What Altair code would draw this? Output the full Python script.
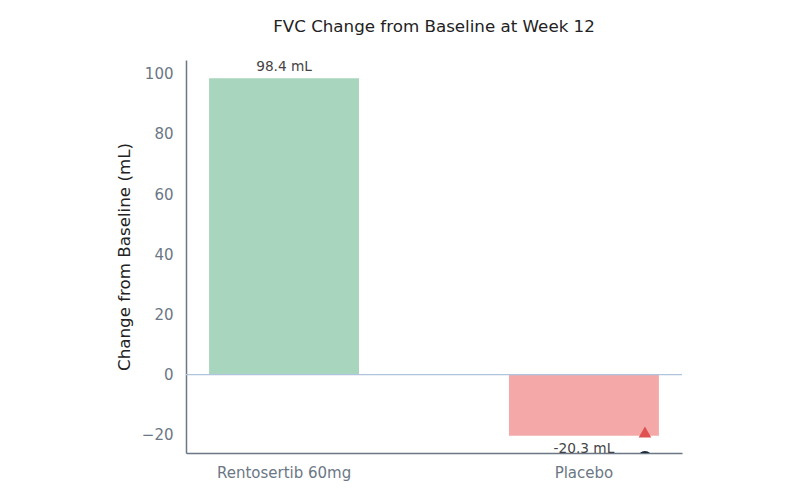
import altair as alt
import pandas as pd

groups = ["Rentosertib 60mg", "Placebo"]
changes = [98.4, -20.3]
labels = ["98.4 mL", "-20.3 mL"]
bar_colors = ["#a8d5be", "#f4a9a8"]

marker_group = ["Placebo", "Placebo"]
marker_values = [-19.0, -27.8]
marker_shapes = ["triangle-up", "circle"]
marker_colors = ["#e05252", "#1c2b3a"]
marker_sizes = [160, 220]

bars_df = pd.DataFrame({"group": groups, "change": changes, "label": labels, "color": bar_colors})
markers_df = pd.DataFrame(
    {
        "group": marker_group,
        "value": marker_values,
        "shape": marker_shapes,
        "color": marker_colors,
        "size": marker_sizes,
    }
)

font = "DejaVu Sans"

x = alt.X(
    "group:N",
    sort=groups,
    title=None,
    scale=alt.Scale(paddingInner=0.5, paddingOuter=0.077),
    axis=alt.Axis(
        labelAngle=0,
        labelFontSize=15,
        labelColor="#6b7785",
        labelPadding=12,
        ticks=False,
        grid=False,
        domainColor="#6b7785",
        domainWidth=1.5,
    ),
)
y_scale = alt.Scale(domain=[-26, 104.5], nice=False, zero=False)

base = alt.Chart(bars_df)

bars = base.mark_bar(clip=True).encode(
    x=x,
    y=alt.Y(
        "change:Q",
        scale=y_scale,
        title="Change from Baseline (mL)",
        axis=alt.Axis(
            grid=False,
            ticks=False,
            values=[-20, 0, 20, 40, 60, 80, 100],
            labelExpr="replace(datum.label, '-', '\u2212')",
            labelFontSize=15,
            labelColor="#6b7785",
            labelPadding=13,
            domainColor="#6b7785",
            domainWidth=1.5,
            titleFontSize=16.7,
            titleFontWeight="normal",
            titleColor="#222222",
            titlePadding=8,
        ),
    ),
    y2=alt.datum(0),
    color=alt.Color("color:N", scale=None),
)

zero = alt.Chart(pd.DataFrame({"z": [0]})).mark_rule(color="#b0c4de", strokeWidth=1.2).encode(
    y=alt.Y("z:Q", scale=y_scale)
)

top_labels = base.transform_filter("datum.change >= 0").mark_text(
    dy=-4, baseline="bottom", fontSize=13.7, color="#444444", font=font
).encode(x=x, y=alt.Y("change:Q", scale=y_scale), text="label:N")

bottom_labels = base.transform_filter("datum.change < 0").mark_text(
    dy=6, baseline="top", fontSize=13.7, color="#444444", font=font
).encode(x=x, y=alt.Y("change:Q", scale=y_scale), text="label:N")

markers = alt.Chart(markers_df).mark_point(
    filled=True, xOffset=61, clip=True, opacity=1
).encode(
    x=x,
    y=alt.Y("value:Q", scale=y_scale),
    shape=alt.Shape("shape:N", scale=None),
    color=alt.Color("color:N", scale=None),
    size=alt.Size("size:Q", scale=None),
)

chart = (
    alt.layer(bars, zero, top_labels, bottom_labels, markers)
    .properties(
        width=496,
        height=393,
        view=alt.ViewBackground(stroke="transparent", strokeWidth=0),
        title=alt.TitleParams(
            "FVC Change from Baseline at Week 12",
            fontSize=16.7,
            fontWeight="normal",
            color="#222222",
            font=font,
            offset=24,
        ),
        autosize=alt.AutoSizeParams(type="none"),
        padding={"left": 178, "top": 52, "right": 110, "bottom": 30},
    )
    .configure_view(stroke="transparent", strokeWidth=0)
    .configure(font=font)
)

chart.save("out.html", embed_options={"renderer": "svg", "actions": False})
